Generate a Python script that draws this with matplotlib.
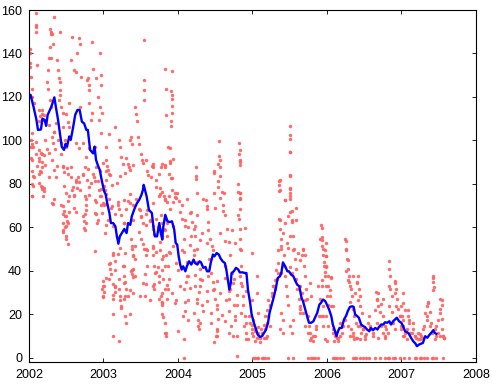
import numpy as np
import matplotlib
matplotlib.use("Agg")
import matplotlib.pyplot as plt

# smoothed series (decimal year, value)
line_t = [2002.00, 2002.02, 2002.06, 2002.10, 2002.12, 2002.16, 2002.18, 2002.21, 2002.23, 2002.25,
          2002.27, 2002.30, 2002.34, 2002.36, 2002.39, 2002.42, 2002.44, 2002.47, 2002.49, 2002.51,
          2002.54, 2002.56, 2002.59, 2002.62, 2002.65, 2002.68, 2002.71, 2002.74, 2002.77, 2002.79,
          2002.82, 2002.86, 2002.88, 2002.90, 2002.93, 2002.95, 2002.98, 2003.01, 2003.03, 2003.05,
          2003.08, 2003.10, 2003.13, 2003.16, 2003.18, 2003.20, 2003.22, 2003.26, 2003.28, 2003.31,
          2003.33, 2003.36, 2003.38, 2003.42, 2003.45, 2003.48, 2003.51, 2003.53, 2003.54, 2003.58,
          2003.61, 2003.65, 2003.67, 2003.69, 2003.72, 2003.75, 2003.77, 2003.79, 2003.80, 2003.83,
          2003.86, 2003.89, 2003.92, 2003.95, 2003.97, 2003.99, 2004.01, 2004.03, 2004.05, 2004.07,
          2004.10, 2004.12, 2004.15, 2004.18, 2004.21, 2004.23, 2004.26, 2004.29, 2004.31, 2004.34,
          2004.37, 2004.39, 2004.42, 2004.44, 2004.47, 2004.49, 2004.52, 2004.55, 2004.57, 2004.60,
          2004.63, 2004.65, 2004.67, 2004.69, 2004.71, 2004.72, 2004.75, 2004.78, 2004.81, 2004.83,
          2004.87, 2004.90, 2004.92, 2004.94, 2004.97, 2004.99, 2005.02, 2005.05, 2005.07, 2005.10,
          2005.13, 2005.15, 2005.18, 2005.21, 2005.23, 2005.26, 2005.29, 2005.32, 2005.34, 2005.37,
          2005.39, 2005.41, 2005.44, 2005.47, 2005.49, 2005.52, 2005.55, 2005.57, 2005.60, 2005.63,
          2005.66, 2005.68, 2005.71, 2005.74, 2005.76, 2005.79, 2005.82, 2005.84, 2005.87, 2005.90,
          2005.92, 2005.95, 2005.98, 2006.00, 2006.03, 2006.06, 2006.08, 2006.11, 2006.13, 2006.15,
          2006.17, 2006.20, 2006.23, 2006.26, 2006.28, 2006.31, 2006.34, 2006.36, 2006.38, 2006.41,
          2006.43, 2006.46, 2006.49, 2006.51, 2006.54, 2006.57, 2006.59, 2006.62, 2006.65, 2006.68,
          2006.70, 2006.73, 2006.76, 2006.78, 2006.81, 2006.84, 2006.86, 2006.89, 2006.92, 2006.94,
          2006.97, 2007.00, 2007.02, 2007.05, 2007.08, 2007.10, 2007.13, 2007.16, 2007.19, 2007.21,
          2007.24, 2007.27, 2007.29, 2007.32, 2007.35, 2007.37, 2007.40, 2007.43, 2007.45, 2007.47]
line_v = [119.4, 121.0, 115.5, 109.4, 104.8, 105.0, 110.0, 109.4, 106.7, 111.7,
          113.2, 115.5, 119.8, 115.5, 109.4, 101.8, 97.0, 95.6, 98.4, 97.1,
          101.8, 100.2, 105.6, 111.7, 114.0, 114.0, 108.6, 107.8, 104.8, 104.8,
          95.6, 94.0, 97.1, 91.0, 88.0, 86.4, 81.0, 76.5, 75.0, 71.1,
          66.5, 61.9, 61.9, 60.4, 55.8, 52.4, 55.8, 58.1, 59.2, 57.3,
          61.9, 61.1, 65.0, 68.8, 71.1, 72.6, 74.9, 77.2, 79.5, 74.1,
          68.0, 66.5, 60.4, 55.8, 55.8, 61.9, 57.3, 54.3, 59.5, 65.7,
          62.7, 62.4, 62.7, 58.9, 52.7, 52.0, 46.6, 42.8, 40.5, 42.0,
          39.7, 42.0, 44.3, 42.8, 45.1, 43.5, 42.8, 44.3, 43.8, 41.3,
          41.7, 39.7, 39.7, 43.5, 47.4, 46.6, 48.1, 47.4, 45.8, 44.3,
          43.5, 40.5, 35.9, 31.3, 34.3, 38.9, 39.7, 41.3, 40.5, 39.2,
          39.2, 38.9, 38.9, 31.3, 25.1, 19.8, 16.0, 12.9, 10.6, 9.5,
          9.8, 11.0, 12.6, 16.0, 20.5, 24.4, 28.2, 32.8, 36.6, 37.4,
          39.2, 43.8, 42.0, 39.7, 39.7, 38.2, 37.4, 35.9, 33.6, 32.8,
          27.4, 25.9, 22.1, 18.3, 16.0, 16.0, 16.7, 18.3, 20.5, 24.4,
          25.1, 26.7, 25.9, 24.4, 22.1, 19.0, 15.2, 12.1, 9.8, 12.1,
          13.6, 13.6, 17.5, 19.3, 21.3, 23.3, 23.6, 23.3, 19.8, 19.0,
          18.3, 15.2, 14.4, 14.1, 12.9, 12.1, 13.6, 12.6, 13.6, 12.9,
          14.1, 15.2, 15.2, 16.2, 16.0, 16.7, 15.2, 16.7, 17.7, 18.3,
          16.7, 16.0, 14.7, 12.1, 11.6, 11.0, 9.1, 7.5, 6.4, 5.2,
          6.0, 6.4, 6.7, 9.8, 9.1, 10.1, 11.3, 12.6, 11.3, 10.9]

# raw observations (decimal year, value), one list per year
dots_2002 = [(2002.09, 158.8), (2002.10, 153), (2002.10, 152), (2002.10, 150), (2002.11, 134.6),
             (2002.03, 129), (2002.04, 123.8), (2002.04, 120), (2002.01, 135.4), (2002.01, 133.8),
             (2002.01, 140), (2002.01, 142), (2002.14, 114), (2002.17, 112), (2002.15, 111),
             (2002.13, 109), (2002.03, 100), (2002.04, 98.5), (2002.05, 97), (2002.10, 93.8),
             (2002.13, 92), (2002.14, 90.7), (2002.17, 93.8), (2002.18, 87.7), (2002.15, 86),
             (2002.04, 86), (2002.05, 83.8), (2002.13, 84.6), (2002.17, 78.5), (2002.18, 77.7),
             (2002.20, 76.9), (2002.03, 92), (2002.04, 80), (2002.06, 79),
             (2002.28, 151.5), (2002.29, 149.2), (2002.30, 150), (2002.31, 149.2), (2002.32, 144.6),
             (2002.28, 143), (2002.29, 137.7), (2002.27, 137.7), (2002.25, 132.3), (2002.24, 127),
             (2002.25, 123.8), (2002.28, 118.5), (2002.29, 115.4), (2002.34, 157), (2002.37, 137),
             (2002.39, 132.3), (2002.40, 128.5), (2002.41, 127), (2002.42, 123), (2002.40, 118.5),
             (2002.41, 121), (2002.42, 150), (2002.22, 100), (2002.24, 96), (2002.27, 94),
             (2002.31, 91), (2002.35, 96), (2002.37, 88), (2002.39, 100), (2002.33, 104), (2002.36, 108),
             (2002.58, 147.7), (2002.67, 147), (2002.68, 144.6), (2002.64, 140), (2002.57, 137),
             (2002.60, 132.3), (2002.63, 131.5), (2002.70, 129), (2002.78, 127.7), (2002.79, 128.5),
             (2002.81, 125.4), (2002.80, 123), (2002.85, 145.4), (2002.86, 133), (2002.90, 128.5),
             (2002.92, 120), (2002.95, 140), (2002.96, 130), (2002.97, 125.4), (2002.95, 115.4),
             (2002.50, 112), (2002.52, 108.5), (2002.54, 106), (2002.46, 106), (2002.48, 100),
             (2002.50, 97), (2002.43, 93.8), (2002.46, 87.7), (2002.52, 84.6), (2002.57, 87.7),
             (2002.59, 78.5), (2002.63, 80.8), (2002.66, 83), (2002.68, 77), (2002.72, 84.6),
             (2002.75, 87.7), (2002.77, 92.3), (2002.79, 87), (2002.81, 78.5), (2002.86, 84.6),
             (2002.88, 81.5), (2002.90, 87.7), (2002.93, 81.5), (2002.95, 86), (2002.97, 77.7),
             (2002.04, 74.6), (2002.19, 74.6), (2002.32, 70.8), (2002.34, 73), (2002.43, 70),
             (2002.46, 66), (2002.48, 65), (2002.45, 62), (2002.46, 58.5), (2002.48, 60),
             (2002.50, 56), (2002.49, 54.6), (2002.52, 52.3), (2002.52, 62), (2002.54, 67),
             (2002.52, 72.3), (2002.46, 57.7), (2002.61, 74.6), (2002.61, 69), (2002.63, 67),
             (2002.75, 74.6), (2002.76, 70), (2002.75, 66), (2002.76, 62), (2002.75, 58.5),
             (2002.77, 73), (2002.90, 71.5), (2002.90, 66), (2002.91, 62), (2002.89, 49),
             (2002.95, 74.6), (2002.97, 70), (2002.98, 31.5)]

more_2002 = [(2002.07, 117), (2002.18, 114), (2002.20, 111.7), (2002.18, 109.4), (2002.27, 107),
             (2002.34, 104), (2002.31, 101.7), (2002.32, 98.7), (2002.04, 103.3), (2002.09, 99.4),
             (2002.02, 97.1), (2002.13, 95.6), (2002.16, 94), (2002.20, 93.3), (2002.18, 90.2),
             (2002.22, 88.7), (2002.04, 91), (2002.11, 88), (2002.07, 83.3), (2002.16, 85.6),
             (2002.13, 80.3), (2002.16, 78.8), (2002.20, 78), (2002.04, 74.2), (2002.27, 83.3),
             (2002.34, 86.4), (2002.36, 83.3), (2002.45, 88), (2002.47, 85.6), (2002.51, 87.2),
             (2002.56, 83.3), (2002.63, 81.8), (2002.58, 77.2), (2002.47, 78.8), (2002.49, 75.7),
             (2002.54, 74.2), (2002.60, 74.9), (2002.65, 78), (2002.67, 81), (2002.72, 84.1),
             (2002.78, 81.8), (2002.83, 80.3), (2002.87, 83.3), (2002.94, 77.2), (2002.81, 74.9),
             (2002.89, 72.6), (2002.96, 74.2), (2003.01, 70.3), (2002.31, 71.1), (2002.45, 69.6),
             (2002.47, 67.3), (2002.49, 65), (2002.51, 62.7), (2002.76, 68), (2002.72, 65),
             (2002.74, 62.7), (2002.89, 66.5), (2002.92, 63.4), (2002.49, 60.4), (2002.74, 59.6),
             (2003.03, 61.1), (2002.43, 98.7), (2002.63, 98.7), (2002.67, 96.4), (2002.72, 98.7),
             (2002.81, 96.4), (2002.89, 97.1), (2002.96, 103.3), (2002.94, 109.4), (2002.98, 112.5),
             (2003.05, 88), (2003.03, 91), (2002.83, 109.4), (2002.85, 112.5), (2002.69, 115.5),
             (2002.81, 117), (2002.43, 115.5), (2002.45, 112.5), (2002.54, 117)]

dots_2003 = [(2003.00, 35.4), (2003.01, 33), (2003.01, 30), (2003.00, 27.7),
             (2003.08, 43), (2003.09, 40.8), (2003.10, 38.5), (2003.08, 36), (2003.13, 47),
             (2003.15, 44.6), (2003.13, 33.8), (2003.15, 32.3), (2003.16, 30), (2003.13, 27),
             (2003.13, 20), (2003.13, 10), (2003.21, 7.7), (2003.19, 47.7), (2003.21, 36),
             (2003.21, 31.5), (2003.22, 28.5), (2003.24, 23), (2003.26, 42.3), (2003.28, 37.7),
             (2003.29, 34.6), (2003.30, 31.5), (2003.28, 27), (2003.29, 19.2), (2003.30, 16),
             (2003.33, 28.5), (2003.35, 20), (2003.37, 54.6), (2003.38, 50), (2003.39, 47),
             (2003.37, 40), (2003.39, 37), (2003.38, 38.5), (2003.40, 40.8), (2003.42, 45.4),
             (2003.42, 51.5), (2003.48, 57.7), (2003.50, 54.6), (2003.53, 52.3), (2003.57, 50),
             (2003.57, 47), (2003.56, 38.5), (2003.57, 33.8), (2003.56, 28.5), (2003.55, 50),
             (2003.66, 51.5), (2003.67, 47), (2003.68, 42.3), (2003.70, 39.2), (2003.71, 48.5),
             (2003.73, 41.5), (2003.74, 37.7), (2003.75, 34.6), (2003.77, 28.5), (2003.79, 25.4),
             (2003.79, 20), (2003.82, 16), (2003.83, 11.5), (2003.84, 10), (2003.74, 27),
             (2003.68, 33.8), (2003.68, 31.5), (2003.84, 47), (2003.86, 42.3), (2003.88, 36),
             (2003.86, 31.5),
             (2003.03, 75.4), (2003.04, 70.8), (2003.08, 73), (2003.10, 69), (2003.15, 66),
             (2003.19, 71.5), (2003.21, 68.5), (2003.24, 65.4), (2003.28, 62), (2003.30, 68.5),
             (2003.33, 72.3), (2003.35, 75.4), (2003.39, 70), (2003.44, 73), (2003.48, 68.5),
             (2003.50, 64.6), (2003.53, 62), (2003.57, 66), (2003.57, 60.8), (2003.62, 63),
             (2003.66, 59), (2003.68, 57), (2003.71, 64), (2003.73, 60), (2003.77, 65.4),
             (2003.79, 62), (2003.82, 58.5),
             (2003.04, 86), (2003.08, 84.6), (2003.01, 79), (2003.04, 97), (2003.08, 103),
             (2003.15, 106), (2003.21, 100), (2003.22, 97), (2003.24, 92.3), (2003.26, 89),
             (2003.30, 92), (2003.33, 89), (2003.34, 87.7), (2003.36, 100), (2003.37, 101.5),
             (2003.38, 98.5), (2003.42, 115.4), (2003.44, 112.3), (2003.45, 109), (2003.46, 101.5),
             (2003.48, 98.5), (2003.50, 93.8), (2003.52, 90.8), (2003.54, 127.7), (2003.54, 123),
             (2003.55, 118.5), (2003.57, 90.8), (2003.59, 86), (2003.64, 83), (2003.66, 89),
             (2003.67, 87.7), (2003.71, 78.5), (2003.75, 84.6), (2003.77, 87.7), (2003.79, 89),
             (2003.86, 97), (2003.88, 84.6), (2003.55, 146),
             (2003.83, 133), (2003.92, 132), (2003.84, 123.8), (2003.91, 122.8), (2003.92, 121),
             (2003.92, 119), (2003.92, 115.7), (2003.92, 112.8), (2003.84, 111.5), (2003.91, 109),
             (2003.91, 106.6), (2003.90, 96.6), (2003.93, 91.5), (2003.90, 89.5), (2003.82, 88.5),
             (2003.82, 87.7), (2003.91, 82.6), (2003.99, 75.7), (2003.98, 73.5), (2003.76, 75.4),
             (2003.81, 74.6),
             (2003.79, 76), (2003.82, 73), (2003.85, 71.5), (2003.88, 74.6), (2003.92, 77),
             (2003.94, 71.5), (2003.96, 74), (2003.90, 68.5), (2003.83, 64), (2003.81, 59),
             (2003.79, 56), (2003.76, 53), (2003.85, 56), (2003.94, 51.5), (2003.88, 48.5),
             (2003.79, 45.4), (2003.83, 42.3), (2003.80, 36), (2003.82, 31.5), (2003.85, 27),
             (2003.79, 24), (2003.84, 11.5), (2003.80, 18.5)]

more_2003 = [(2003.00, 89.5), (2003.06, 86.4), (2003.09, 84.1), (2003.04, 81.8), (2003.02, 77.2),
             (2003.11, 79.5), (2003.18, 80.3), (2003.22, 83.4), (2003.29, 84.9), (2003.36, 86.4),
             (2003.40, 88.7), (2003.53, 89.5), (2003.60, 84.1), (2003.65, 88), (2003.71, 81.8),
             (2003.76, 78), (2003.89, 90.3), (2003.92, 82.6), (2003.96, 75.7), (2003.83, 72.6),
             (2003.74, 74.2), (2003.67, 71.1), (2003.58, 68), (2003.49, 68), (2003.36, 71.1),
             (2003.27, 72.6), (2003.20, 70.3), (2003.11, 69.6), (2003.00, 71.1), (2002.98, 66.5),
             (2003.06, 63.4), (2003.02, 57.3), (2003.13, 60.4), (2003.27, 61.9), (2003.40, 63.4),
             (2003.51, 65), (2003.62, 63.4), (2003.85, 61.9), (2003.94, 60.4), (2003.67, 60.4),
             (2003.78, 58.8), (2003.13, 48.1), (2003.22, 50.4), (2003.29, 48.1), (2003.38, 51.2),
             (2003.40, 46.6), (2003.58, 49.6), (2003.67, 50.4), (2003.76, 49.6), (2003.80, 46.6),
             (2003.89, 48.1), (2003.98, 43.5), (2003.09, 43.5), (2003.15, 40.5), (2003.27, 42),
             (2003.38, 40.5), (2003.42, 37.4), (2003.58, 42), (2003.69, 38.9), (2003.78, 40.5),
             (2003.04, 36.6), (2003.00, 32.8), (2003.15, 32.8), (2003.27, 34.3), (2003.36, 31.3),
             (2003.40, 29.7), (2003.53, 34.3), (2003.67, 32.8), (2003.85, 33.6), (2003.92, 29.7),
             (2003.00, 28.2), (2003.13, 29), (2003.22, 26.7), (2003.29, 28.2), (2003.49, 28.2),
             (2003.62, 26.7), (2003.78, 29.7), (2003.96, 25.1), (2003.24, 23.6), (2003.78, 25.1)]

dots_2004 = [(2004.03, 67), (2004.05, 64), (2004.08, 54.6), (2004.08, 48.5), (2004.12, 44),
             (2004.14, 37.7), (2004.11, 34.6), (2004.08, 31.5), (2004.10, 25.4), (2004.07, 19.2),
             (2004.08, 8.5), (2004.08, 0), (2004.01, 72), (2004.05, 70), (2004.12, 73),
             (2004.14, 60), (2004.16, 52),
             (2004.17, 67), (2004.19, 62.3), (2004.21, 59), (2004.23, 56), (2004.25, 50),
             (2004.21, 47), (2004.26, 43.8), (2004.29, 40.8), (2004.30, 36), (2004.23, 33),
             (2004.28, 30), (2004.25, 27), (2004.32, 24), (2004.30, 16), (2004.28, 13),
             (2004.34, 73), (2004.39, 68.5), (2004.41, 62.3), (2004.43, 54.6), (2004.46, 51.5),
             (2004.42, 45.4), (2004.44, 39), (2004.47, 34.6), (2004.48, 31.5), (2004.50, 27),
             (2004.52, 22.3), (2004.54, 17.7), (2004.53, 13), (2004.51, 10), (2004.48, 7),
             (2004.59, 76), (2004.61, 70), (2004.63, 65.4), (2004.66, 59), (2004.68, 53),
             (2004.70, 47), (2004.63, 42.3), (2004.72, 39), (2004.75, 36), (2004.70, 31.5),
             (2004.68, 27), (2004.75, 24), (2004.77, 19), (2004.71, 14.6), (2004.74, 10),
             (2004.79, 0.8), (2004.80, 76), (2004.83, 73), (2004.83, 68.5), (2004.82, 64),
             (2004.83, 59), (2004.84, 54.6), (2004.83, 50), (2004.85, 42.3), (2004.83, 37.7),
             (2004.86, 33), (2004.88, 28.5), (2004.87, 24), (2004.90, 19), (2004.89, 14.6),
             (2004.92, 11.5), (2004.92, 8.5), (2004.95, 19), (2004.97, 16), (2004.99, 13),
             (2004.24, 87.7), (2004.24, 83.4), (2004.24, 82.3), (2004.25, 75.7), (2004.38, 72.6),
             (2004.48, 86), (2004.49, 85), (2004.54, 81.5), (2004.55, 99.7), (2004.55, 92.8),
             (2004.56, 90.8), (2004.54, 89.2), (2004.56, 87.7), (2004.57, 83.8), (2004.54, 78.5),
             (2004.57, 73.5), (2004.62, 75.7), (2004.48, 75.7), (2004.82, 98.8), (2004.83, 95.7),
             (2004.82, 93.5), (2004.83, 90.8), (2004.83, 90), (2004.83, 88.5), (2004.81, 79.7),
             (2004.83, 75.7), (2004.84, 75.7), (2004.84, 73.5)]

more_2004 = [(2004.09, 63.4), (2004.16, 66.5), (2004.25, 65.7), (2004.39, 69.6), (2004.50, 68.8),
             (2004.61, 67.3), (2004.81, 65.7), (2004.09, 60.4), (2004.23, 60.4), (2004.32, 57.3),
             (2004.41, 58.8), (2004.56, 57.3), (2004.72, 58.8), (2004.90, 59.6), (2004.18, 55.8),
             (2004.30, 54.2), (2004.39, 52.7), (2004.63, 53.5), (2004.77, 52.7), (2004.05, 49.6),
             (2004.21, 49.6), (2004.47, 49.6), (2004.85, 49.6), (2004.99, 48.1), (2004.00, 40.5),
             (2004.12, 37.4), (2004.23, 38.1), (2004.32, 35.9), (2004.41, 37.4), (2004.52, 35.1),
             (2004.63, 36.6), (2004.74, 34.3), (2004.85, 34.3), (2004.03, 32.8), (2004.16, 32),
             (2004.30, 32.8), (2004.39, 30.5), (2004.47, 31.3), (2004.56, 29.7), (2004.68, 30.5),
             (2004.79, 29), (2004.92, 30.5), (2003.98, 26.7), (2004.14, 26.7), (2004.25, 25.1),
             (2004.39, 25.9), (2004.52, 24.4), (2004.65, 26.7), (2004.79, 24.4), (2004.09, 21.3),
             (2004.21, 20.5), (2004.34, 21.3), (2004.45, 20.5), (2004.59, 19.8), (2004.68, 21.3),
             (2004.85, 20.5), (2004.14, 17.5), (2004.27, 17.5), (2004.45, 15.9), (2004.63, 16.7),
             (2004.77, 17.5), (2004.92, 15.9), (2004.27, 14.4), (2004.52, 12.1), (2004.68, 11.3),
             (2004.79, 9.8), (2004.00, 12.1), (2004.52, 9.8), (2004.94, 8.3)]

dots_2005 = [(2005.01, 10), (2005.04, 7.7), (2005.06, 9), (2005.08, 11.5), (2005.10, 7),
             (2005.13, 11.5), (2005.15, 9), (2005.04, 0), (2005.08, 0), (2005.13, 0),
             (2005.17, 0), (2005.21, 0), (2005.06, 0), (2005.00, 15), (2005.03, 12),
             (2005.07, 14), (2005.11, 13), (2005.15, 15), (2005.18, 9),
             (2005.19, 16), (2005.21, 19), (2005.24, 24), (2005.26, 28.5), (2005.28, 33),
             (2005.30, 31.5), (2005.33, 36), (2005.35, 39), (2005.36, 64), (2005.37, 59),
             (2005.38, 54.6), (2005.39, 50), (2005.42, 47), (2005.42, 42.3), (2005.44, 37.7),
             (2005.45, 33), (2005.46, 28.5), (2005.48, 24), (2005.50, 73), (2005.51, 67),
             (2005.53, 62.3), (2005.55, 56), (2005.56, 50), (2005.57, 45.4), (2005.58, 40.8),
             (2005.59, 36), (2005.60, 31.5), (2005.62, 27), (2005.64, 22.3), (2005.66, 47),
             (2005.68, 50), (2005.69, 42.3), (2005.71, 37.7), (2005.72, 31.5), (2005.73, 27),
             (2005.75, 19), (2005.76, 14.6), (2005.77, 11.5), (2005.79, 9), (2005.82, 7.7),
             (2005.84, 10), (2005.86, 13), (2005.75, 0), (2005.79, 0), (2005.84, 0), (2005.88, 0),
             (2005.91, 54.6), (2005.93, 51.5), (2005.95, 47), (2005.96, 42.3), (2005.97, 37.7),
             (2005.99, 33), (2005.95, 19),
             (2005.36, 81.5), (2005.36, 79.5), (2005.36, 76.6), (2005.44, 72.6), (2005.50, 106.6),
             (2005.50, 102.6), (2005.50, 100.6), (2005.50, 94.6), (2005.51, 83.7), (2005.50, 77.7),
             (2005.51, 74.6),
             (2005.92, 60.8), (2005.94, 55.4), (2005.95, 50), (2005.96, 43.8), (2005.97, 39.2),
             (2005.94, 33), (2005.91, 27), (2005.92, 19.2), (2005.95, 14.6), (2005.97, 8.5)]

more_2005 = [(2005.50, 94.8), (2005.51, 84.1), (2005.50, 78), (2005.37, 81.8), (2005.37, 77.2),
             (2005.44, 72.6), (2005.50, 75.7), (2005.59, 68.8), (2005.53, 67.3), (2005.48, 65),
             (2005.37, 63.4), (2005.44, 61.9), (2005.53, 63.4), (2005.59, 63.4), (2005.41, 57.3),
             (2005.50, 55.8), (2005.46, 52.7), (2005.39, 51.2), (2005.35, 49.6), (2005.48, 50.4),
             (2005.55, 49.6), (2005.61, 48.1), (2005.64, 45), (2005.68, 49.6), (2005.70, 47.3),
             (2005.93, 59.6), (2005.93, 54.2), (2005.99, 52.7), (2005.97, 49.6), (2005.99, 46.6),
             (2005.99, 41.9), (2005.35, 43.5), (2005.32, 40.5), (2005.39, 38.9), (2005.30, 35.8),
             (2005.28, 32.8), (2005.26, 29.7), (2005.21, 26.6), (2005.23, 23.6), (2005.19, 22),
             (2005.17, 19), (2005.50, 41.9), (2005.53, 38.9), (2005.57, 35.8), (2005.64, 32.8),
             (2005.66, 29.7), (2005.70, 26.6), (2005.64, 23.6), (2005.68, 20.5), (2005.55, 17.5),
             (2005.50, 14.4), (2005.53, 11.3), (2005.70, 14.4), (2005.75, 11.3), (2005.77, 8.2),
             (2005.82, 9.8), (2005.86, 14.4), (2005.90, 19), (2005.95, 23.6), (2005.88, 32.8),
             (2005.93, 35.8), (2005.41, 17.5), (2005.39, 20.5), (2005.37, 12.9), (2005.41, 11.3),
             (2005.06, 37.4), (2005.06, 29.7), (2004.99, 26.6), (2005.08, 20.5), (2005.01, 17.5),
             (2005.03, 12.9), (2004.99, 11.3), (2005.17, 12.9), (2005.10, 9), (2005.19, 9.8),
             (2005.23, 14.4), (2005.77, 34.3), (2005.79, 28.2), (2005.64, 20.5),
             (2005.01, 0), (2005.14, 0), (2005.48, 0), (2005.55, 0), (2005.82, 0)]

dots_2006 = [(2006.00, 28.5), (2006.02, 24), (2006.00, 7.7), (2006.01, 33), (2006.04, 28.5),
             (2006.06, 37), (2006.06, 23.8), (2006.08, 11.5), (2006.10, 7.7), (2006.13, 9),
             (2006.15, 7.7), (2006.17, 10), (2006.08, 0), (2006.13, 0), (2006.17, 0), (2006.22, 0),
             (2006.25, 54.6), (2006.26, 50), (2006.27, 45.4), (2006.28, 40.8), (2006.30, 37.7),
             (2006.30, 34.6), (2006.33, 31.5), (2006.34, 28.5), (2006.31, 25.4), (2006.35, 22.3),
             (2006.37, 19.2), (2006.39, 16), (2006.42, 37.7), (2006.40, 34.6), (2006.43, 31.5),
             (2006.44, 28.5), (2006.33, 13), (2006.35, 10), (2006.37, 8.5), (2006.39, 9),
             (2006.44, 14.6), (2006.46, 11.5), (2006.48, 13), (2006.51, 10), (2006.35, 0),
             (2006.39, 0), (2006.44, 0), (2006.48, 0),
             (2006.55, 16), (2006.57, 19.2), (2006.60, 13), (2006.62, 10), (2006.66, 30),
             (2006.67, 27), (2006.69, 23.8), (2006.71, 20.8), (2006.73, 24.6), (2006.75, 27),
             (2006.73, 14.6), (2006.75, 11.5), (2006.78, 9), (2006.80, 13), (2006.57, 0),
             (2006.64, 0), (2006.71, 0), (2006.78, 0),
             (2006.84, 44.6), (2006.84, 40.8), (2006.85, 37.7), (2006.83, 33), (2006.85, 31.5),
             (2006.87, 28.5), (2006.84, 23.8), (2006.88, 20.8), (2006.89, 16), (2006.91, 13),
             (2006.92, 35.4), (2006.93, 31.5), (2006.94, 27), (2006.96, 22.3), (2006.98, 19.2),
             (2006.84, 0), (2006.91, 0), (2006.98, 0)]

more_2006 = [(2006.26, 53.5), (2006.26, 49.7), (2006.28, 45), (2006.26, 39.7), (2006.29, 35.9),
             (2006.31, 32.8), (2006.35, 37.4), (2006.40, 34.3), (2006.38, 29.7), (2006.42, 26.7),
             (2006.44, 23.6), (2006.47, 20.5), (2005.99, 46.6), (2005.99, 42), (2006.02, 37.4),
             (2006.06, 36.6), (2006.04, 31.3), (2006.08, 23.6), (2005.99, 19), (2006.02, 14.4),
             (2006.08, 12.9), (2006.11, 9.8), (2006.15, 9), (2006.20, 11.3), (2006.22, 14.4),
             (2006.17, 15.9), (2006.24, 17.5), (2006.29, 14.4), (2006.31, 9.8), (2006.35, 11.3),
             (2006.40, 9), (2006.42, 14.4), (2006.49, 12.9), (2006.53, 10.6), (2006.58, 14.4),
             (2006.62, 11.3), (2006.67, 15.9), (2006.64, 22.1), (2006.67, 26.7), (2006.69, 29.7),
             (2006.76, 19), (2006.78, 14.4), (2006.82, 11.3), (2006.87, 15.9), (2006.91, 34.3),
             (2006.92, 29.7), (2006.93, 23.6), (2006.98, 19), (2007.00, 12.9), (2007.02, 9.8),
             (2006.78, 9.8), (2006.69, 9), (2006.51, 8.3), (2006.44, 8.3),
             (2006.11, 0), (2006.38, 0), (2006.53, 0), (2006.82, 0), (2006.89, 0)]

dots_2007 = [(2007.00, 23.8), (2007.01, 19.2), (2007.02, 14.6), (2007.04, 10), (2007.07, 13),
             (2007.09, 19.2), (2007.10, 16), (2007.12, 11.5), (2007.04, 0),
             (2007.16, 13), (2007.18, 10), (2007.20, 9), (2007.22, 11.5), (2007.25, 8.5),
             (2007.27, 10), (2007.29, 9), (2007.31, 14.6), (2007.34, 19.2), (2007.35, 23.8),
             (2007.36, 25.4), (2007.38, 20.8), (2007.40, 16), (2007.42, 37.7), (2007.43, 34.6),
             (2007.44, 32.3), (2007.45, 13), (2007.47, 10), (2007.49, 11.5), (2007.52, 27),
             (2007.52, 22.3), (2007.54, 17.7), (2007.55, 13), (2007.56, 10), (2007.58, 9),
             (2007.20, 0), (2007.27, 0), (2007.34, 0), (2007.43, 0), (2007.56, 0)]

more_2007 = [(2007.43, 36.6), (2007.43, 31.3), (2007.02, 29.7), (2007.02, 25.1), (2007.05, 22.1),
             (2007.09, 22.1), (2007.11, 17.5), (2007.16, 15.9), (2007.02, 17.5), (2007.00, 14.4),
             (2007.05, 11.3), (2007.07, 8.3), (2007.14, 11.3), (2007.18, 9.8), (2007.23, 8.3),
             (2007.25, 10.6), (2007.29, 12.9), (2007.32, 20.5), (2007.34, 17.5), (2007.36, 25.1),
             (2007.38, 14.4), (2007.41, 11.3), (2007.47, 14.4), (2007.49, 17.5), (2007.52, 20.5),
             (2007.54, 26.7), (2007.54, 24.4), (2007.52, 9.8), (2007.56, 9.8), (2007.58, 9.0),
             (2007.45, 8.3), (2007.11, 0), (2007.18, 0), (2007.25, 0), (2007.31, 0), (2007.41, 0),
             (2007.47, 0)]

x_ticks = [2002, 2003, 2004, 2005, 2006, 2007, 2008]
y_ticks = [0, 20, 40, 60, 80, 100, 120, 140, 160]

plt.rcParams['font.family'] = ['Liberation Sans', 'DejaVu Sans']

fig = plt.figure(figsize=(4.92, 3.87), dpi=100)
ax = fig.add_axes([0.059, 0.065, 0.908, 0.909])

dots = np.array(dots_2002 + more_2002 + dots_2003 + more_2003 + dots_2004 + more_2004
                + dots_2005 + more_2005 + dots_2006 + more_2006 + dots_2007 + more_2007)
ax.plot(dots[:, 0], dots[:, 1], '.', color='#ff6060', markersize=3.0, alpha=0.85)
ax.plot(line_t, line_v, color='#0000ff', linewidth=1.7)

ax.set_xlim(2002, 2008)
ax.set_ylim(-2, 160)
ax.set_xticks(x_ticks)
ax.set_yticks(y_ticks)
ax.tick_params(direction='in', top=True, right=True, length=3, width=0.6,
               labelsize=9, pad=5)
for s in ax.spines.values():
    s.set_linewidth(0.8)

plt.savefig("out.png", dpi=100)
